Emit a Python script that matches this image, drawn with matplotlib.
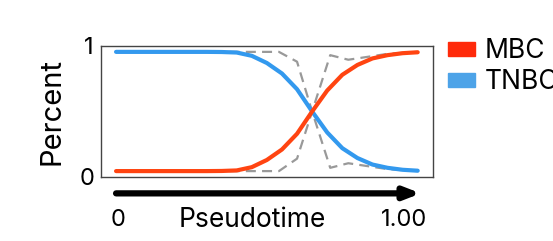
import matplotlib
matplotlib.use('Agg')
import matplotlib.pyplot as plt
import numpy as np
from matplotlib.patches import Patch

plt.rcParams['font.family'] = ['Inter', 'DejaVu Sans']

# pseudotime grid and smoothed fractions
t = [0.00, 0.05, 0.10, 0.15, 0.20, 0.25, 0.30, 0.35, 0.40, 0.45, 0.50,
     0.55, 0.60, 0.65, 0.70, 0.75, 0.80, 0.85, 0.90, 0.95, 1.00]
tnbc = [0.955, 0.955, 0.955, 0.955, 0.955, 0.955, 0.955, 0.954, 0.950, 0.925, 0.870,
        0.790, 0.670, 0.500, 0.340, 0.220, 0.145, 0.095, 0.070, 0.055, 0.048]
mbc = [0.045, 0.045, 0.045, 0.045, 0.045, 0.045, 0.045, 0.046, 0.050, 0.075, 0.130,
       0.210, 0.330, 0.500, 0.660, 0.780, 0.855, 0.905, 0.930, 0.945, 0.952]

# raw (unsmoothed) fractions, dashed
t_raw = [0.00, 0.54, 0.60, 0.65, 0.71, 0.77, 0.90, 1.00]
raw_down = [0.955, 0.955, 0.880, 0.500, 0.070, 0.105, 0.060, 0.045]
raw_up = [0.045, 0.045, 0.140, 0.500, 0.930, 0.895, 0.940, 0.955]

labels = ['MBC', 'TNBC']
colors = ['#FF4411', '#3399EE']
patch_colors = ['#FF2A0A', '#4DA3E8']

fig = plt.figure(figsize=(5.53, 2.41), dpi=100)
ax = fig.add_axes([0.1826, 0.2656, 0.600, 0.5436])

ax.plot(t_raw, raw_down, color='#999999', lw=1.6, ls=(0, (4.5, 2.8)), zorder=1)
ax.plot(t_raw, raw_up, color='#999999', lw=1.6, ls=(0, (4.5, 2.8)), zorder=1)
ax.plot(t, tnbc, color=colors[1], lw=3, zorder=2, solid_capstyle='round')
ax.plot(t, mbc, color=colors[0], lw=3, zorder=3, solid_capstyle='round')

ax.set_xlim(-0.05, 1.05)
ax.set_ylim(0, 1)
ax.set_xticks([])
ax.set_yticks([0, 1])
ax.set_yticklabels(['0', '1'], fontsize=17)
ax.tick_params(axis='y', length=0, pad=5)
for s in ax.spines.values():
    s.set_color('#444444')
    s.set_linewidth(1)
ax.set_ylabel('Percent', fontsize=21, labelpad=10)

# pseudotime arrow
ax.annotate('', xy=(1.01, -0.125), xytext=(0.0, -0.125),
            xycoords=('data', 'axes fraction'),
            arrowprops=dict(arrowstyle='-|>,head_length=0.9,head_width=0.35',
                            color='black', lw=4.5, shrinkA=0, shrinkB=0),
            annotation_clip=False)
ax.text(0.005, -0.33, '0', transform=ax.get_xaxis_transform(), ha='center', va='center', fontsize=17)
ax.text(0.955, -0.33, '1.00', transform=ax.get_xaxis_transform(), ha='center', va='center', fontsize=17)
ax.text(0.45, -0.33, 'Pseudotime', transform=ax.get_xaxis_transform(), ha='center', va='center', fontsize=19)

handles = [Patch(color=c) for c in patch_colors]
ax.legend(handles, labels, loc='upper left', bbox_to_anchor=(1.045, 1.06), frameon=False,
          fontsize=19, handlelength=1.02, handleheight=0.45, handletextpad=0.38,
          labelspacing=0.2, borderaxespad=0, borderpad=0)

fig.savefig('out.png', dpi=100)
